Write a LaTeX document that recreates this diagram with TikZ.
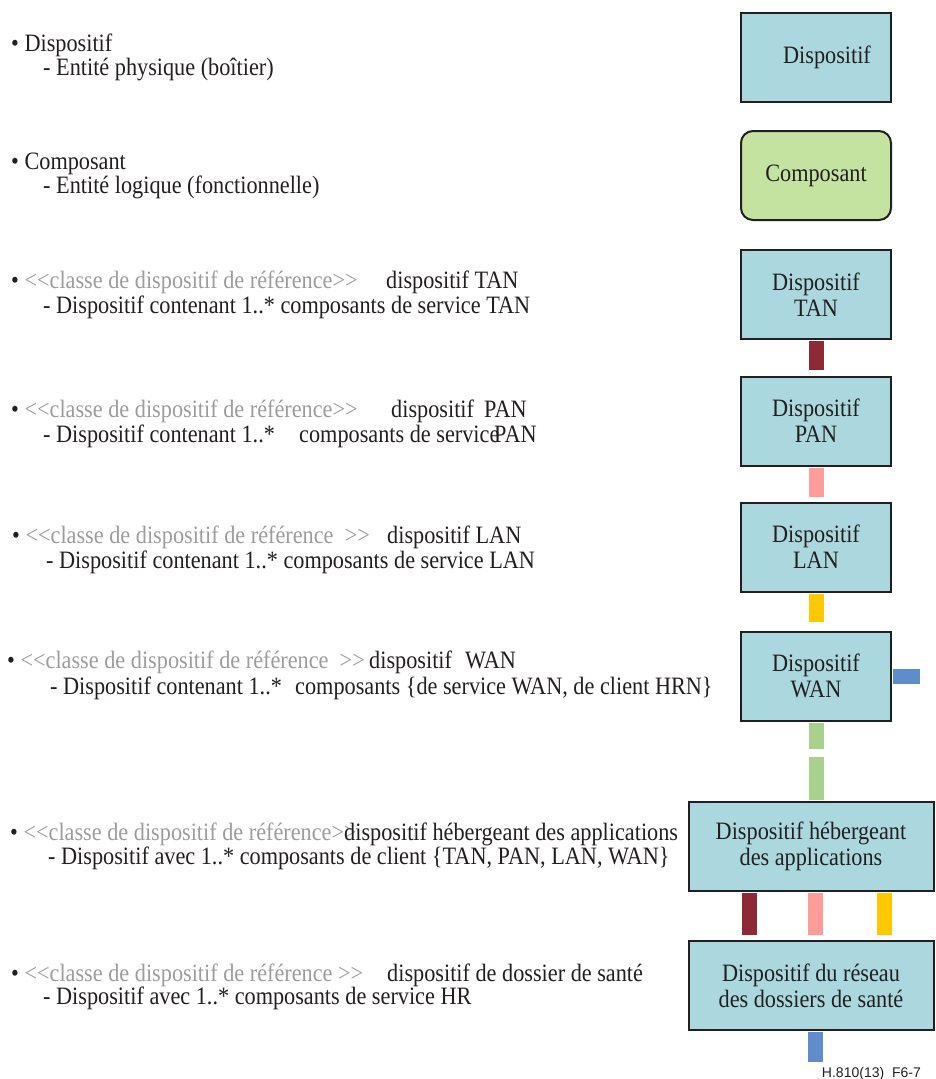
\documentclass[tikz,border=0pt]{standalone}
\usepackage{fontspec}
\setmainfont{Liberation Serif}[FakeStretch=0.89,Ligatures=TeXOff]
\newfontfamily\hdsans{Liberation Sans}
\usepackage{tikz}
\definecolor{hdink}  {HTML}{231F20}
\definecolor{hdgrey} {HTML}{9C9C9C}
\definecolor{hdblue} {HTML}{ABD7DE}
\definecolor{hdgreen}{HTML}{C5E3A0}
\definecolor{hdtan}  {HTML}{8E2A35}
\definecolor{hdpan}  {HTML}{FD9D9A}
\definecolor{hdlan}  {HTML}{FFC800}
\definecolor{hdwan}  {HTML}{A9D18E}
\definecolor{hdhrn}  {HTML}{5F8DC9}
\tikzset{
  hdbox/.style={draw=hdink, line width=2pt, fill=hdblue, minimum width=150pt,
                minimum height=89pt, align=center, inner sep=2pt,
                font=\fontsize{25}{26}\selectfont, text=hdink},
  hdcomp/.style={hdbox, fill=hdgreen, rounded corners=12pt},
  hdwide/.style={hdbox, minimum width=245pt},
  hdtext/.style={anchor=base west, inner sep=0pt, font=\fontsize{25}{26}\selectfont, text=hdink},
  hdbar/.style={line width=15pt, shorten <=1pt},
  hdnote/.style={anchor=base east, inner sep=0pt, font=\hdsans\fontsize{14}{14}\selectfont, text=hdink},
}
\newcommand{\hdref}[1]{\textbullet\ \textcolor{hdgrey}{#1}}

\begin{document}
\begin{tikzpicture}[x=1pt,y=1pt]
  \useasboundingbox (0,0) rectangle (935,-1079);
  % boxes on the right
  \node[hdbox]  (disp) at (816,-57.5) {\hspace*{22pt}Dispositif};
  \node[hdcomp] (comp) at (816,-175.5) {Composant};
  \node[hdbox]  (tan)  at (816,-294.5) {Dispositif\\TAN};
  \node[hdbox]  (pan)  at (816,-421) {Dispositif\\PAN};
  \node[hdbox]  (lan)  at (816,-547) {Dispositif\\LAN};
  \node[hdbox]  (wan)  at (816,-676) {Dispositif\\WAN};
  \node[hdwide] (app)  at (811,-846) {Dispositif hébergeant\\des applications};
  \node[hdwide] (hr)   at (811,-985.5) {Dispositif du réseau\\des dossiers de santé};
  \coordinate (wanend) at (920,-676);
  \coordinate (gtop)   at (816,-749);
  \coordinate (gbot)   at (816,-757);
  \coordinate (hrend)  at (815,-1062);
  % links
  \draw[hdbar, draw=hdtan, shorten >=6pt] (tan.south) -- (pan.north);
  \draw[hdbar, draw=hdpan, shorten >=5pt] (pan.south) -- (lan.north);
  \draw[hdbar, draw=hdlan, shorten >=9pt] (lan.south) -- (wan.north);
  \draw[hdbar, draw=hdhrn] (wan.east) -- (wanend);
  \draw[hdbar, draw=hdwan] (wan.south) -- (gtop);
  \draw[hdbar, draw=hdwan, shorten <=0pt, shorten >=1pt] (gbot) -- (gbot |- app.north);
  \draw[hdbar, draw=hdtan, shorten >=5pt] ([xshift=-61.5pt]app.south) -- ([xshift=-61.5pt]hr.north);
  \draw[hdbar, draw=hdpan, shorten >=5pt] ([xshift=4pt]app.south) -- ([xshift=4pt]hr.north);
  \draw[hdbar, draw=hdlan, shorten >=5pt] ([xshift=73pt]app.south) -- ([xshift=73pt]hr.north);
  \draw[hdbar, draw=hdhrn] ([xshift=4pt]hr.south) -- (hrend);
  % texts on the left
  \node[hdtext] (t1a) at (11,-51) {\textbullet\ Dispositif};
  \node[hdtext] (t1b) at (43,-75) {- Entité physique (boîtier)};
  \node[hdtext] (t2a) at (11,-169) {\textbullet\ Composant};
  \node[hdtext] (t2b) at (43,-193) {- Entité logique (fonctionnelle)};
  \node[hdtext] (t3a) at (11,-288) {\hdref{<<classe de dispositif de référence>>}};
  \node[hdtext] (t3c) at (386,-288) {dispositif TAN};
  \node[hdtext] (t3b) at (43,-313) {- Dispositif contenant 1..* composants de service TAN};
  \node[hdtext] (t4a) at (11,-417) {\hdref{<<classe de dispositif de référence>>}};
  \node[hdtext] (t4c) at (391,-417) {dispositif};
  \node[hdtext] (t4d) at (484,-417) {PAN};
  \node[hdtext] (t4b) at (43,-442) {- Dispositif contenant 1..*};
  \node[hdtext] (t4e) at (299,-442) {composants de service};
  \node[hdtext] (t4f) at (494,-442) {PAN};
  \node[hdtext] (t5a) at (12,-543) {\hdref{<<classe de dispositif de référence\ \ >>}};
  \node[hdtext] (t5c) at (387,-543) {dispositif LAN};
  \node[hdtext] (t5b) at (46,-568) {- Dispositif contenant 1..* composants de service LAN};
  \node[hdtext] (t6a) at (7,-668) {\hdref{<<classe de dispositif de référence\ \ >>}};
  \node[hdtext] (t6c) at (369,-668) {dispositif};
  \node[hdtext] (t6d) at (465,-668) {WAN};
  \node[hdtext] (t6b) at (50,-694) {- Dispositif contenant 1..*};
  \node[hdtext] (t6e) at (295,-694) {composants \{de service WAN, de client HRN\}};
  \node[hdtext] (t7a) at (10,-840) {\hdref{<<classe de dispositif de référence>>}};
  \node[hdtext] (t7c) at (344,-840) {dispositif hébergeant des applications};
  \node[hdtext] (t7b) at (48,-864) {- Dispositif avec 1..* composants de client \{TAN, PAN, LAN, WAN\}};
  \node[hdtext] (t8a) at (11,-981) {\hdref{<<classe de dispositif de référence >>}};
  \node[hdtext] (t8c) at (387,-981) {dispositif de dossier de santé};
  \node[hdtext] (t8b) at (43,-1004) {- Dispositif avec 1..* composants de service HR};
  \node[hdnote] (figid) at (921,-1077) {H.810(13)\ \ F6-7};
\end{tikzpicture}
\end{document}
